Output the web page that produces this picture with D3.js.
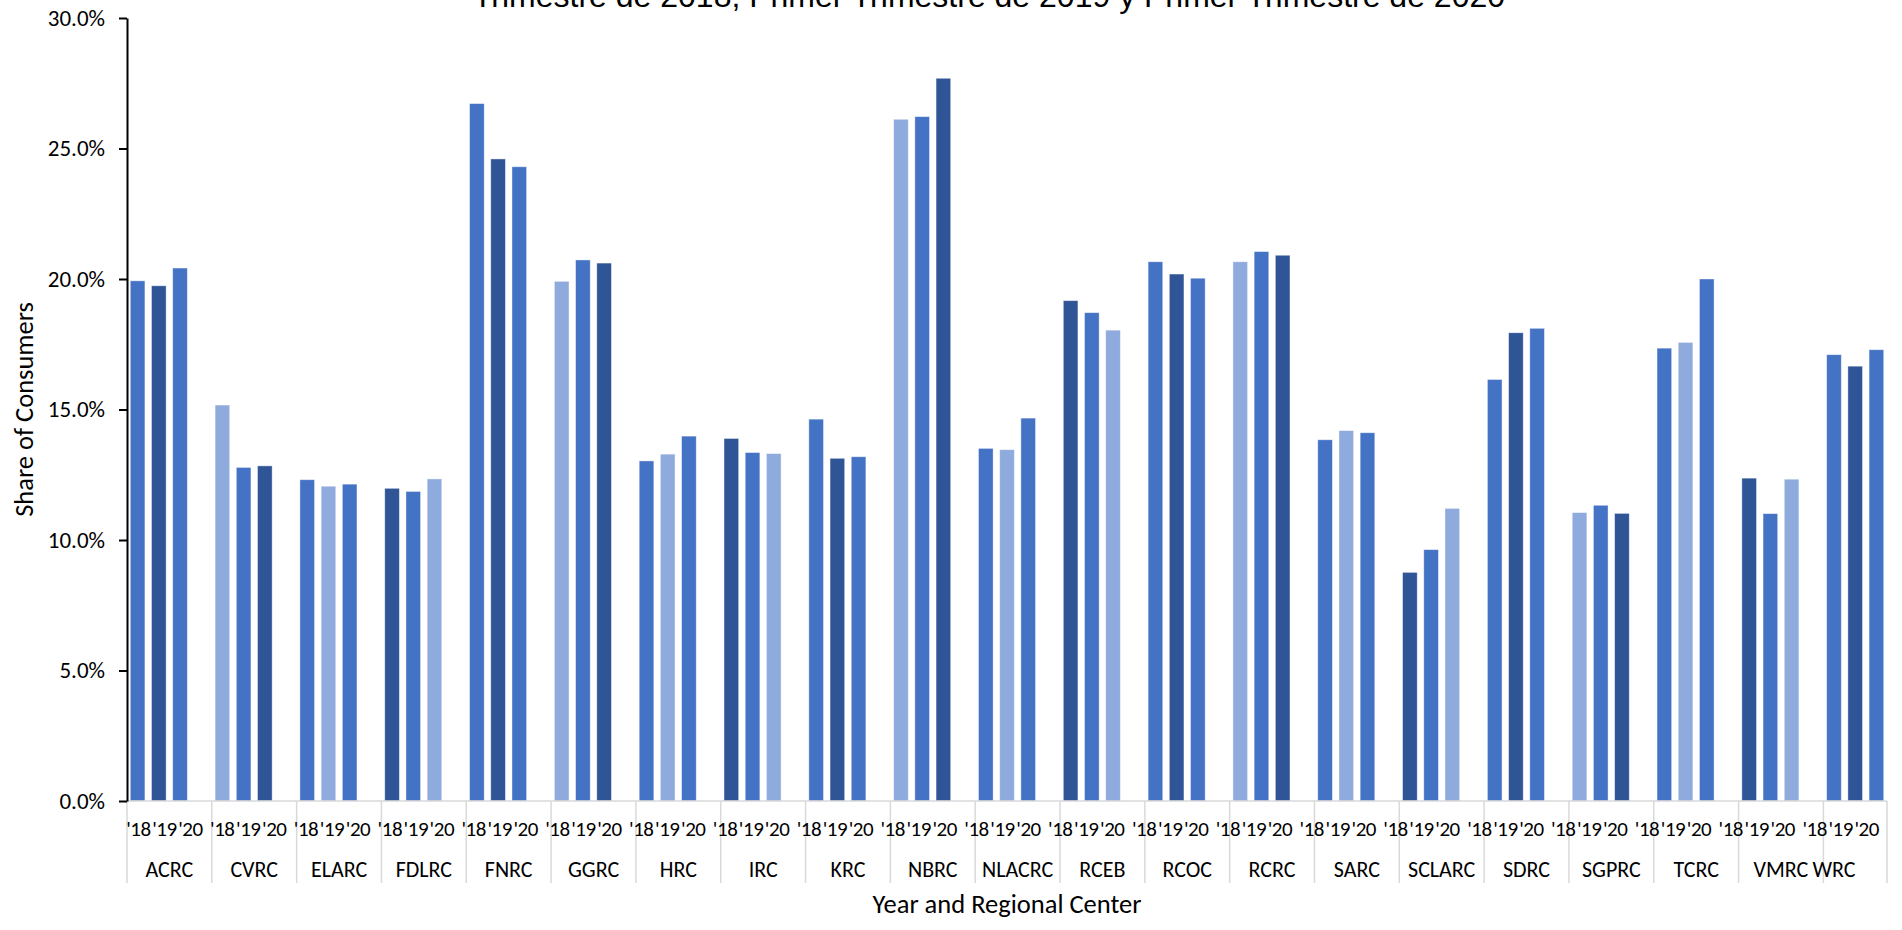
<!DOCTYPE html>
<html>
<head>
<meta charset="utf-8">
<script src="https://cdn.jsdelivr.net/npm/d3@7"></script>
<style>
  body { margin: 0; background: #fff; }
  svg text { font-family: Carlito, Calibri, Lato, sans-serif; fill: #000; }
</style>
</head>
<body>
<div id="chart"></div>
<script>
// Regional centers and the share of consumers (%) in each first quarter
const centers = ['ACRC', 'CVRC', 'ELARC', 'FDLRC', 'FNRC', 'GGRC', 'HRC', 'IRC', 'KRC', 'NBRC', 'NLACRC',
                 'RCEB', 'RCOC', 'RCRC', 'SARC', 'SCLARC', 'SDRC', 'SGPRC', 'TCRC', 'VMRC', 'WRC'];
const years = ["'18", "'19", "'20"];
const share18 = [19.93, 15.17, 12.31, 11.98, 26.72, 19.91, 13.03, 13.89, 14.63, 26.12, 13.51,
                 19.17, 20.66, 20.66, 13.84, 8.76, 16.15, 11.05, 17.35, 12.37, 17.10];
const share19 = [19.74, 12.78, 12.06, 11.86, 24.60, 20.73, 13.29, 13.35, 13.13, 26.22, 13.46,
                 18.71, 20.19, 21.05, 14.19, 9.63, 17.94, 11.33, 17.57, 11.01, 16.66];
const share20 = [20.42, 12.84, 12.14, 12.34, 24.30, 20.61, 13.98, 13.31, 13.19, 27.69, 14.67,
                 18.04, 20.03, 20.91, 14.11, 11.21, 18.11, 11.02, 20.00, 12.33, 17.29];
const yTicks = [0, 5, 10, 15, 20, 25, 30];

const titleText = 'Trimestre de 2018, Primer Trimestre de 2019 y Primer Trimestre de 2020';
const yTitle = 'Share of Consumers';
const xTitle = 'Year and Regional Center';

// Excel "vary colors by point" cycle
const shades = ['#4472C4', '#2F5597', '#4472C4', '#8FAADC'];

const width = 1902, height = 930;
const plotLeft = 127, plotRight = 1887, plotTop = 18, plotBottom = 801;

const series = [share18, share19, share20];
const rows = [];
centers.forEach((c, i) => {
    years.forEach((yr, j) => {
        rows.push({center: c, year: yr, value: series[j][i], idx: i * 3 + j});
    });
});

// each center gets 3 bars plus an empty slot, except the last one
const slots = [];
centers.forEach((c, i) => {
    years.forEach(yr => slots.push(c + '|' + yr));
    if (i < centers.length - 1) slots.push(c + '|');
});

const svg = d3.select('#chart')
    .append('svg')
        .attr('width', width)
        .attr('height', height);

const x = d3.scaleBand()
    .domain(slots)
    .range([plotLeft, plotRight])
    .paddingInner(0.31)
    .paddingOuter(0.155);

const y = d3.scaleLinear()
    .domain([0, 30])
    .range([plotBottom, plotTop]);

const step = x.step();
const slotStart = key => x(key) - step * x.paddingInner() / 2;

// Title (cut off at the top edge like the source image)
svg.append('text')
    .attr('x', 989)
    .attr('y', 7)
    .attr('text-anchor', 'middle')
    .style('font-family', '"Liberation Sans", Arial, sans-serif')
    .style('font-size', '32px')
    .text(titleText);

// Bars
svg.append('g')
    .selectAll('rect')
    .data(rows)
    .join('rect')
        .attr('x', d => x(d.center + '|' + d.year))
        .attr('y', d => y(d.value))
        .attr('width', x.bandwidth())
        .attr('height', d => y(0) - y(d.value))
        .attr('fill', d => shades[d.idx % 4])
        .attr('stroke', '#fff')
        .attr('stroke-opacity', 0.5)
        .attr('stroke-width', 0.8);

// Category axis: baseline and separators
const axisColor = '#D9D9D9';
svg.append('line')
    .attr('x1', plotLeft).attr('x2', plotRight)
    .attr('y1', y(0)).attr('y2', y(0))
    .attr('stroke', axisColor)
    .attr('stroke-width', 1.5);

const seps = centers.map(c => slotStart(c + "|'18")).concat([plotRight]);
svg.append('g')
    .selectAll('line')
    .data(seps)
    .join('line')
        .attr('x1', d => d).attr('x2', d => d)
        .attr('y1', y(0)).attr('y2', 883)
        .attr('stroke', axisColor)
        .attr('stroke-width', 1.5);

// Year labels
const labelStep = (plotRight - plotLeft) / centers.length;
const yearLabels = [];
centers.forEach((c, i) => {
    years.forEach((yr, j) => {
        yearLabels.push({text: yr, cx: plotLeft + (i + 0.5) * labelStep - 4.5 + (j - 1) * 26});
    });
});
svg.append('g')
    .selectAll('text')
    .data(yearLabels)
    .join('text')
        .attr('x', d => d.cx)
        .attr('y', 836)
        .attr('text-anchor', 'middle')
        .style('font-size', '21px')
        .style('letter-spacing', '-0.5px')
        .text(d => d.text);

// Center labels
svg.append('g')
    .selectAll('text')
    .data(centers)
    .join('text')
        .attr('x', (c, i) => {
            const start = slotStart(c + "|'18");
            return i < centers.length - 1 ? start + step * 2 : start + step / 2;
        })
        .attr('y', 877)
        .attr('text-anchor', 'middle')
        .style('font-size', '22px')
        .text(c => c);

// Value axis
const yAxis = svg.append('g')
    .attr('transform', `translate(${plotLeft},0)`)
    .call(d3.axisLeft(y)
        .tickValues(yTicks)
        .tickFormat(d => d.toFixed(1) + '%')
        .tickSize(8)
        .tickSizeOuter(0)
        .tickPadding(14));
yAxis.select('.domain').attr('stroke', '#000').attr('stroke-width', 2);
yAxis.selectAll('.tick line').attr('stroke', '#000').attr('stroke-width', 2);
yAxis.selectAll('.tick text')
    .style('font-family', 'Carlito, Calibri, Lato, sans-serif')
    .style('font-size', '23px')
    .attr('fill', '#000');

// Axis titles
svg.append('text')
    .attr('transform', `translate(24,${(plotTop + plotBottom) / 2}) rotate(-90)`)
    .attr('text-anchor', 'middle')
    .attr('dy', '0.35em')
    .style('font-size', '26.5px')
    .text(yTitle);

svg.append('text')
    .attr('x', (plotLeft + plotRight) / 2)
    .attr('y', 913)
    .attr('text-anchor', 'middle')
    .style('font-size', '26.5px')
    .text(xTitle);
</script>
</body>
</html>
